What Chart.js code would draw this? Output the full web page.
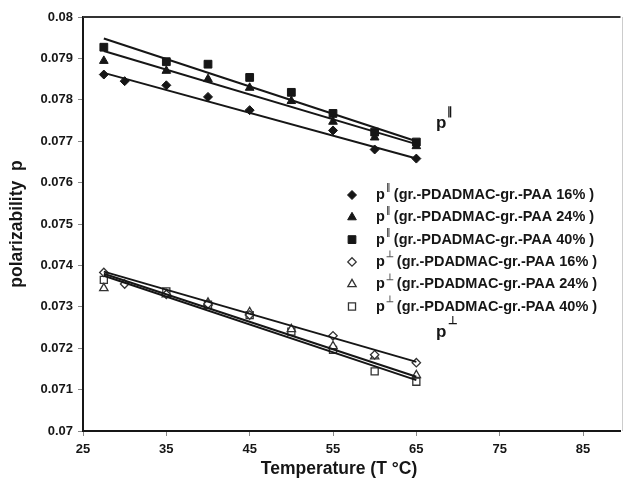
<!DOCTYPE html>
<html lang="en">
<head>
  <meta charset="UTF-8" />
  <title>Polarizability vs Temperature</title>
  <script src="https://cdn.jsdelivr.net/npm/chart.js"></script>
  <style>
    html, body { margin: 0; padding: 0; background: #fff; }
    #wrap { width: 627px; height: 483px; position: relative; }
  </style>
</head>
<body>
  <div id="wrap"><canvas id="polChart"></canvas></div>

  <script>
    // temperatures (°C)
    const temps = [27.5, 35, 40, 45, 50, 55, 60, 65];
    const temps16 = [27.5, 30, 35, 40, 45, 55, 60, 65];

    // p parallel
    const par16 = [0.07861, 0.07845, 0.07835, 0.07807, 0.07775, 0.07726, 0.07680, 0.07658];
    const par24 = [0.07894, 0.07870, 0.07850, 0.07829, 0.07797, 0.07747, 0.07709, 0.07688];
    const par40 = [0.07927, 0.07892, 0.07886, 0.07854, 0.07818, 0.07767, 0.07722, 0.07698];

    // p perpendicular
    const perp16 = [0.07383, 0.07355, 0.07330, 0.07307, 0.07280, 0.07230, 0.07184, 0.07165];
    const perp24 = [0.07345, 0.07330, 0.07310, 0.07287, 0.07246, 0.07205, 0.07180, 0.07135];
    const perp40 = [0.07365, 0.07337, 0.07305, 0.07280, 0.07240, 0.07196, 0.07144, 0.07119];

    // linear fit lines, read at the ends
    const fitT = [27.5, 65];
    const fitPar16 = [0.07865, 0.07658];
    const fitPar24 = [0.07918, 0.07693];
    const fitPar40 = [0.07948, 0.07700];
    const fitPerp16 = [0.07385, 0.07167];
    const fitPerp24 = [0.07380, 0.07131];
    const fitPerp40 = [0.07375, 0.07123];

    const xTicks = [25, 35, 45, 55, 65, 75, 85];
    const yTicks = [0.07, 0.071, 0.072, 0.073, 0.074, 0.075, 0.076, 0.077, 0.078, 0.079, 0.08];

    const legendSym = ['\u2225', '\u2225', '\u2225', '\u22A5', '\u22A5', '\u22A5'];
    const legendText = [
      '(gr.-PDADMAC-gr.-PAA 16% )',
      '(gr.-PDADMAC-gr.-PAA 24% )',
      '(gr.-PDADMAC-gr.-PAA 40% )',
      '(gr.-PDADMAC-gr.-PAA 16% )',
      '(gr.-PDADMAC-gr.-PAA 24% )',
      '(gr.-PDADMAC-gr.-PAA 40% )'
    ];

    const ink = '#161616';
    const font = '"Liberation Sans", Arial, sans-serif';

    const pts = (xs, ys) => xs.map((x, i) => ({ x: x, y: ys[i] }));

    function markers(data, style, filled, r) {
      return {
        type: 'scatter',
        data: data,
        pointStyle: style,
        pointRadius: r,
        backgroundColor: filled ? ink : '#fff',
        borderColor: filled ? ink : '#333',
        borderWidth: filled ? 1 : 1.3,
        order: 2
      };
    }
    function fit(ys) {
      return {
        type: 'line',
        data: pts(fitT, ys),
        borderColor: ink,
        borderWidth: 2,
        pointRadius: 0,
        showLine: true,
        fill: false,
        order: 1
      };
    }

    const datasets = [
      markers(pts(temps16, par16), 'rectRot', true, 4.5),
      markers(pts(temps, par24), 'triangle', true, 5),
      markers(pts(temps, par40), 'rect', true, 5.5),
      markers(pts(temps16, perp16), 'rectRot', false, 4.2),
      markers(pts(temps, perp24), 'triangle', false, 4.8),
      markers(pts(temps, perp40), 'rect', false, 5),
      fit(fitPar16), fit(fitPar24), fit(fitPar40),
      fit(fitPerp16), fit(fitPerp24), fit(fitPerp40)
    ];

    function drawMarker(ctx, ds, x, y) {
      const opts = {
        pointStyle: ds.pointStyle, radius: ds.pointRadius, rotation: 0,
        borderWidth: ds.borderWidth
      };
      ctx.fillStyle = ds.backgroundColor;
      ctx.strokeStyle = ds.borderColor;
      ctx.lineWidth = ds.borderWidth;
      Chart.helpers.drawPoint(ctx, opts, x, y);
    }

    function drawSup(ctx, x, y, sym, rest) {
      ctx.textAlign = 'left';
      ctx.textBaseline = 'middle';
      ctx.fillStyle = ink;
      ctx.font = 'bold 14.5px ' + font;
      ctx.fillText('p', x, y);
      let w = ctx.measureText('p').width;
      ctx.font = 'bold 9px ' + font;
      ctx.fillStyle = '#555';
      ctx.fillText(sym, x + w + 1, y - 7);
      w += ctx.measureText(sym).width + 4;
      ctx.font = 'bold 14.5px ' + font;
      ctx.fillStyle = ink;
      ctx.fillText(rest, x + w, y);
    }

    const extras = {
      id: 'extras',
      afterDraw(chart) {
        const { ctx, chartArea: a } = chart;
        ctx.save();
        // top frame line
        ctx.strokeStyle = '#333';
        ctx.lineWidth = 2;
        ctx.beginPath();
        ctx.moveTo(a.left, a.top);
        ctx.lineTo(a.right, a.top);
        ctx.stroke();
        ctx.strokeStyle = '#ccc';
        ctx.lineWidth = 1;
        ctx.beginPath();
        ctx.moveTo(622.5, a.top);
        ctx.lineTo(622.5, a.bottom);
        ctx.stroke();

        // axis titles
        ctx.fillStyle = ink;
        ctx.font = 'bold 17.5px ' + font;
        ctx.textAlign = 'center';
        ctx.textBaseline = 'middle';
        ctx.fillText('Temperature (T \u00B0C)', 339, 469);
        ctx.save();
        ctx.translate(17, (a.top + a.bottom) / 2);
        ctx.rotate(-Math.PI / 2);
        ctx.fillText('polarizability  p', 0, 0);
        ctx.restore();

        // legend
        for (let i = 0; i < 6; i++) {
          const yy = 195 + i * 22.3;
          drawMarker(ctx, chart.data.datasets[i], 352, yy);
          drawSup(ctx, 376, yy, legendSym[i], legendText[i]);
        }

        // curve labels
        ctx.textAlign = 'left';
        ctx.textBaseline = 'middle';
        ctx.fillStyle = ink;
        ctx.font = 'bold 17px ' + font;
        ctx.fillText('p', 436, 123);
        ctx.fillText('p', 436, 332);
        ctx.font = 'bold 11px ' + font;
        ctx.fillText('\u2225', 447, 112);
        ctx.fillText('\u22A5', 448, 321);
        ctx.restore();
      }
    };

    new Chart(document.getElementById('polChart'), {
      type: 'scatter',
      data: { datasets: datasets },
      options: {
        responsive: true,
        maintainAspectRatio: false,
        animation: false,
        layout: { padding: { top: 17, right: 0, left: 0, bottom: 0 } },
        plugins: { legend: { display: false }, tooltip: { enabled: false } },
        scales: {
          x: {
            type: 'linear',
            min: 25,
            max: 89.5,
            afterBuildTicks: s => { s.ticks = xTicks.map(v => ({ value: v })); },
            afterFit: s => { s.height = 52; },
            ticks: { color: ink, font: { family: font, size: 13, weight: 'bold' }, padding: 6, maxRotation: 0 },
            grid: { drawOnChartArea: false, tickLength: 5, color: '#888' },
            border: { color: ink, width: 2 }
          },
          y: {
            min: 0.07,
            max: 0.08,
            afterBuildTicks: s => { s.ticks = yTicks.map(v => ({ value: v })); },
            afterFit: s => { s.width = 83; },
            ticks: {
              color: ink,
              font: { family: font, size: 13, weight: 'bold' },
              padding: 5,
              callback: v => String(+v.toFixed(3))
            },
            grid: { drawOnChartArea: false, tickLength: 5, color: '#888' },
            border: { color: ink, width: 2 }
          }
        }
      },
      plugins: [extras]
    });
  </script>
</body>
</html>
